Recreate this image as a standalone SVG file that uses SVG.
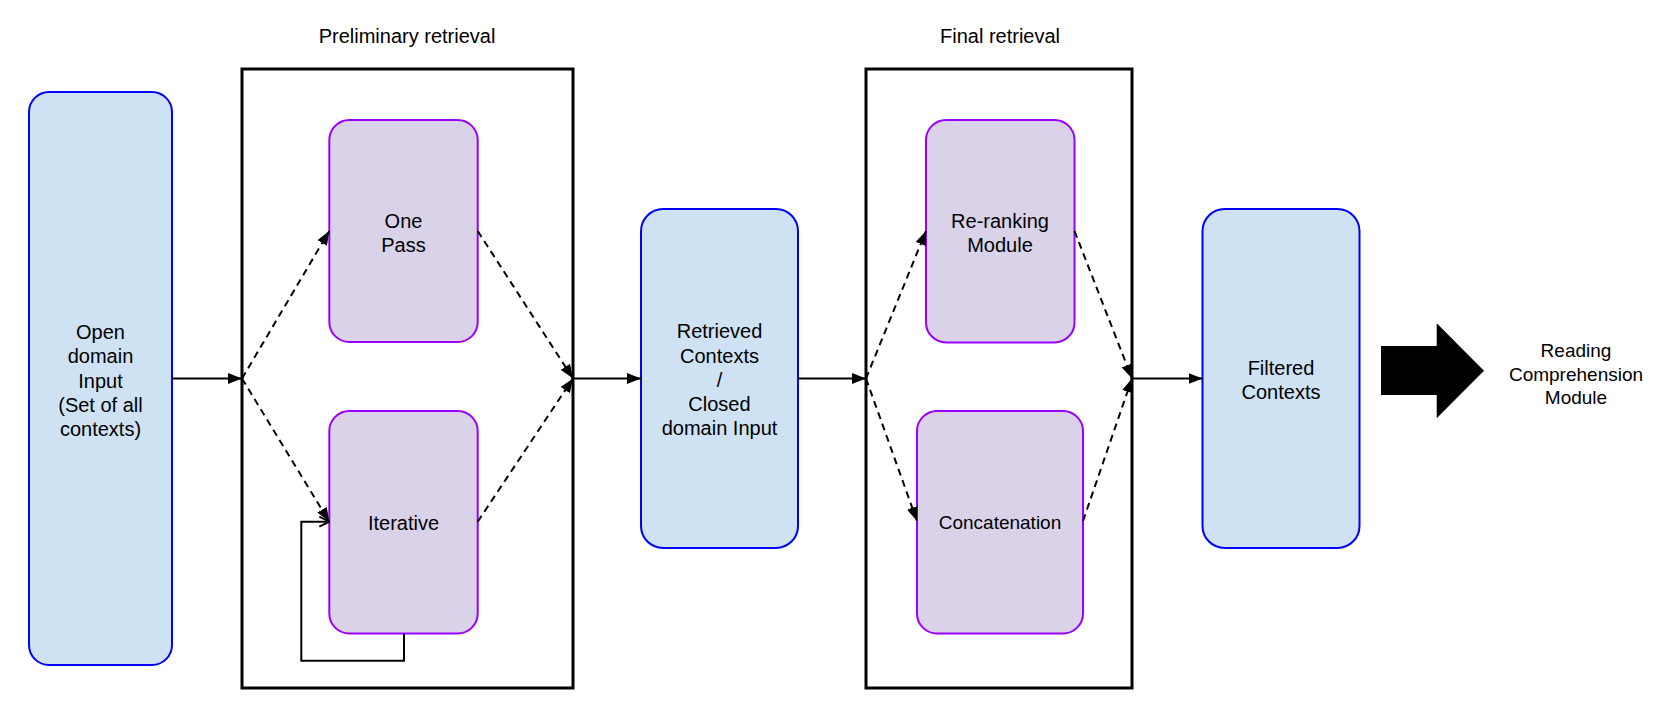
<svg xmlns="http://www.w3.org/2000/svg" width="1661" height="705" viewBox="0 0 1661 705">
<defs>
<style>
text{font-family:"Liberation Sans",Arial,sans-serif;font-size:20px;fill:#000;text-anchor:middle}
.blue{fill:#cfe2f3;stroke:#0000ff;stroke-width:2}
.purple{fill:#d9d2e9;stroke:#9900ff;stroke-width:2}
.group{fill:none;stroke:#000;stroke-width:3}
.solid{fill:none;stroke:#000;stroke-width:2}
.dash{fill:none;stroke:#000;stroke-width:2;stroke-dasharray:7,5}
</style>
<marker id="ah" markerUnits="userSpaceOnUse" markerWidth="14" markerHeight="11" refX="14" refY="5.5" orient="auto">
<path d="M0,0 L14,5.5 L0,11 z" fill="#000"/>
</marker>
<marker id="oh" markerUnits="userSpaceOnUse" markerWidth="12" markerHeight="12" refX="11" refY="6" orient="auto">
<path d="M1,1 L11,6 L1,11" fill="none" stroke="#000" stroke-width="2"/>
</marker>
</defs>
<rect width="1661" height="705" fill="#fff"/>

<g id="prelim-group">
<rect class="group" x="242" y="69" width="331" height="619"/>
<text x="407" y="42.5">Preliminary retrieval</text>
</g>
<g id="final-group">
<rect class="group" x="866" y="69" width="266" height="619"/>
<text x="1000" y="42.5">Final retrieval</text>
</g>

<g id="open-domain">
<rect class="blue" x="29" y="92" width="143" height="573" rx="20"/>
<text x="100.5" y="339">Open</text>
<text x="100.5" y="363.3">domain</text>
<text x="100.5" y="387.6">Input</text>
<text x="100.5" y="411.9">(Set of all</text>
<text x="100.5" y="436.2">contexts)</text>
</g>

<g id="one-pass">
<rect class="purple" x="329.3" y="120" width="148.4" height="222" rx="20"/>
<text x="403.5" y="227.6">One</text>
<text x="403.5" y="252">Pass</text>
</g>

<g id="iterative">
<rect class="purple" x="329.3" y="411" width="148.4" height="222.5" rx="20"/>
<text x="403.5" y="529.5">Iterative</text>
</g>

<g id="retrieved">
<rect class="blue" x="641" y="209" width="157" height="339" rx="22"/>
<text x="719.5" y="338.2">Retrieved</text>
<text x="719.5" y="362.5">Contexts</text>
<text x="719.5" y="386.8">/</text>
<text x="719.5" y="411.1">Closed</text>
<text x="719.5" y="435.4">domain Input</text>
</g>

<g id="reranking">
<rect class="purple" x="926" y="120" width="148.5" height="222.4" rx="20"/>
<text x="1000" y="227.6">Re-ranking</text>
<text x="1000" y="251.5">Module</text>
</g>

<g id="concatenation">
<rect class="purple" x="917" y="411" width="166" height="222.5" rx="20"/>
<text x="1000" y="529.3" style="font-size:19px">Concatenation</text>
</g>

<g id="filtered">
<rect class="blue" x="1202.5" y="209" width="157" height="339" rx="22"/>
<text x="1281" y="374.6">Filtered</text>
<text x="1281" y="398.9">Contexts</text>
</g>

<g id="reading-comprehension">
<text x="1576" y="357" style="font-size:19px">Reading</text>
<text x="1576" y="380.5" style="font-size:19px">Comprehension</text>
<text x="1576" y="404" style="font-size:19px">Module</text>
</g>

<g id="connectors">
<line class="solid" x1="172" y1="378.5" x2="242" y2="378.5" marker-end="url(#ah)"/>
<line class="solid" x1="573" y1="378.5" x2="641" y2="378.5" marker-end="url(#ah)"/>
<line class="solid" x1="798" y1="378.5" x2="866" y2="378.5" marker-end="url(#ah)"/>
<line class="solid" x1="1132" y1="378.5" x2="1202.5" y2="378.5" marker-end="url(#ah)"/>

<line class="dash" x1="242" y1="378.5" x2="329.3" y2="231" marker-end="url(#ah)"/>
<line class="dash" x1="242" y1="378.5" x2="329.3" y2="521.7" marker-end="url(#ah)"/>
<line class="dash" x1="477.7" y1="231" x2="573" y2="378.5" marker-end="url(#ah)"/>
<line class="dash" x1="477.7" y1="521.7" x2="573" y2="378.5" marker-end="url(#ah)"/>

<line class="dash" x1="866" y1="378.5" x2="926" y2="231" marker-end="url(#ah)"/>
<line class="dash" x1="866" y1="378.5" x2="917" y2="521" marker-end="url(#ah)"/>
<line class="dash" x1="1074.5" y1="231" x2="1132" y2="378.5" marker-end="url(#ah)"/>
<line class="dash" x1="1083" y1="521" x2="1132" y2="378.5" marker-end="url(#ah)"/>

<polyline class="solid" points="404,633.5 404,660.7 301.3,660.7 301.3,521.7 329.3,521.7" marker-end="url(#oh)"/>

<polygon points="1381,346 1436.7,346 1436.7,323.3 1484,370.7 1436.7,418.3 1436.7,395 1381,395" fill="#000"/>
</g>
</svg>
